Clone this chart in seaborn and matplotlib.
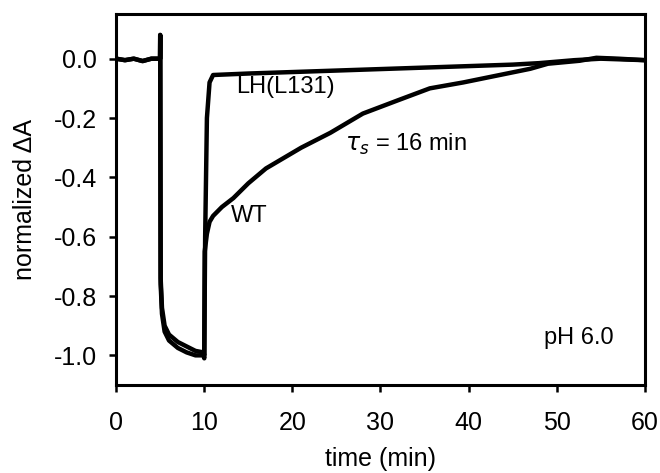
import pandas as pd
import seaborn as sns
import matplotlib
matplotlib.use("Agg")
import matplotlib.pyplot as plt

sns.set_style("ticks")
plt.rcParams['font.family'] = ['Liberation Sans', 'DejaVu Sans']
plt.rcParams['axes.unicode_minus'] = False
plt.rcParams['text.color'] = 'black'
plt.rcParams['axes.labelcolor'] = 'black'

# traces (time in min, normalized dA)
wt_time = [0, 1, 2, 3, 4, 4.98, 5.0, 5.05, 5.2, 5.5, 6, 7, 8, 9, 9.9, 10.0,
           10.05, 10.3, 10.6, 11, 12, 13.3, 15, 17, 21, 24.3, 28, 32, 35.6,
           39.4, 43.2, 47, 49, 52.6, 54.5, 57, 60]
wt_signal = [0.0, -0.005, 0.0, -0.008, 0.0, 0.0, 0.08, -0.76, -0.86, -0.92,
             -0.95, -0.975, -0.99, -1.0, -1.0, -1.01,
             -0.65, -0.59, -0.55, -0.53, -0.5, -0.47, -0.42, -0.37, -0.30,
             -0.25, -0.185, -0.14, -0.10, -0.08, -0.057, -0.034, -0.017,
             -0.007, 0.003, 0.0, -0.005]

lh_time = [0, 1, 2, 3, 4, 4.98, 5.0, 5.05, 5.2, 5.5, 6, 7, 8, 9, 9.9, 10.0,
           10.1, 10.3, 10.6, 11, 15, 20, 25, 30, 35, 40, 45, 48, 52, 55, 60]
lh_signal = [0.0, -0.005, 0.0, -0.008, 0.0, 0.0, 0.08, -0.74, -0.84, -0.9,
             -0.93, -0.955, -0.97, -0.985, -0.99, -1.0,
             -0.6, -0.2, -0.08, -0.055, -0.05, -0.045, -0.04, -0.035, -0.03,
             -0.025, -0.02, -0.015, -0.005, 0.0, -0.005]

df = pd.concat([
    pd.DataFrame({'time': wt_time, 'signal': wt_signal, 'strain': 'WT'}),
    pd.DataFrame({'time': lh_time, 'signal': lh_signal, 'strain': 'LH(L131)'}),
])

fig = plt.figure(figsize=(6.6, 4.73), dpi=100)
ax = fig.add_axes([0.176, 0.186, 0.801, 0.784])

sns.lineplot(data=df, x='time', y='signal', hue='strain', units='strain',
             estimator=None, sort=False, palette=['black', 'black'],
             linewidth=3.2, legend=False, ax=ax)

ax.set_xlim(0, 60)
ax.set_ylim(-1.1, 0.15)
ax.set_xticks(range(0, 61, 10))
ax.set_yticks([-1.0, -0.8, -0.6, -0.4, -0.2, 0.0])
ax.set_yticklabels(['-1.0', '-0.8', '-0.6', '-0.4', '-0.2', '0.0'])
ax.tick_params(direction='out', length=5, width=1.8, labelsize=18,
               colors='black')
ax.tick_params(axis='x', pad=14)
ax.tick_params(axis='y', pad=9)
for s in ax.spines.values():
    s.set_linewidth(2.2)
    s.set_color('black')

ax.set_xlabel('time (min)', fontsize=18, labelpad=8)
ax.set_ylabel('normalized ΔA', fontsize=18, labelpad=12)

ax.text(13.6, -0.095, 'LH(L131)', fontsize=17, va='center', ha='left')
ax.text(13.0, -0.53, 'WT', fontsize=17, va='center', ha='left')
ax.text(26.0, -0.29, r'$\tau_s$ = 16 min', fontsize=17, va='center', ha='left')
ax.text(48.6, -0.94, 'pH 6.0', fontsize=17, va='center', ha='left')

fig.savefig('out.png', dpi=100)
